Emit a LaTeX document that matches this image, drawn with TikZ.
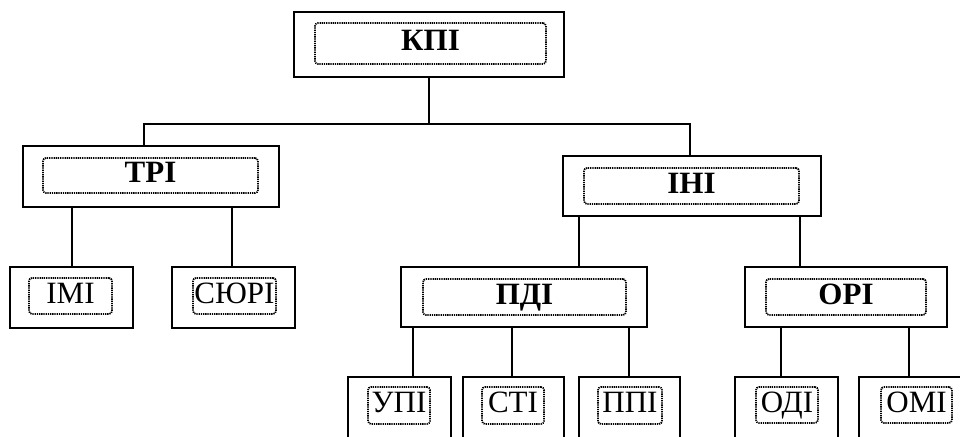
\documentclass[tikz,border=0pt]{standalone}
\usepackage{fontspec}
\setmainfont{Liberation Serif}
\begin{document}
\begin{tikzpicture}[x=1pt,y=-1pt,
  outer/.style={draw=black,line width=2pt,rectangle,inner sep=0pt},
  inner/.style={draw=black,line width=1.7pt,dash pattern=on 1.3pt off 0.9pt,rounded corners=3pt,rectangle,inner sep=0pt,text height=21pt,text depth=7pt,font=\fontsize{31}{32}\selectfont},
  bold/.style={font=\fontsize{31}{32}\selectfont\bfseries},
  conn/.style={draw=black,line width=1.8pt}]
\useasboundingbox (0,0) rectangle (960,436);
\clip (0,0) rectangle (960,436);
% КПІ
\node[outer,minimum width=270pt,minimum height=65pt] (kpi) at (429,44.5) {};
\node[inner,minimum width=231pt,minimum height=41pt,bold] (kpii) at (430.5,43.5) {КПІ};
% ТРІ
\node[outer,minimum width=256pt,minimum height=61pt] (tri) at (151,176.5) {};
\node[inner,minimum width=215pt,minimum height=35pt,bold] (trii) at (150.5,175.5) {ТРІ};
% ІНІ
\node[outer,minimum width=258pt,minimum height=60pt] (ini) at (692,186) {};
\node[inner,minimum width=215pt,minimum height=36pt,bold] (inii) at (691.5,186) {ІНІ};
% ІМІ
\node[outer,minimum width=123pt,minimum height=61pt] (imi) at (71.5,297.5) {};
\node[inner,minimum width=83pt,minimum height=36pt] (imii) at (70.5,296) {ІМІ};
% СЮРІ
\node[outer,minimum width=123pt,minimum height=61pt] (syuri) at (233.5,297.5) {};
\node[inner,minimum width=83pt,minimum height=36pt] (syurii) at (234.5,296) {СЮРІ};
% ПДІ
\node[outer,minimum width=246pt,minimum height=60pt] (pdi) at (524,297) {};
\node[inner,minimum width=203pt,minimum height=36pt,bold] (pdii) at (524.5,297) {ПДІ};
% ОРІ
\node[outer,minimum width=202pt,minimum height=60pt] (ori) at (846,297) {};
\node[inner,minimum width=160pt,minimum height=36pt,bold] (orii) at (846,297) {ОРІ};
% leaves
\node[outer,minimum width=103pt,minimum height=68pt] (upi) at (399.5,411) {};
\node[inner,minimum width=62pt,minimum height=37pt] (upii) at (399,405.5) {УПІ};
\node[outer,minimum width=101pt,minimum height=68pt] (sti) at (513.5,411) {};
\node[inner,minimum width=62pt,minimum height=37pt] (stii) at (513,405.5) {СТІ};
\node[outer,minimum width=101pt,minimum height=68pt] (ppi) at (629.5,411) {};
\node[inner,minimum width=64pt,minimum height=37pt] (ppii) at (630,405.5) {ППІ};
\node[outer,minimum width=103pt,minimum height=68pt] (odi) at (786.5,411) {};
\node[inner,minimum width=62pt,minimum height=36pt] (odii) at (787,405) {ОДІ};
\node[outer,minimum width=111pt,minimum height=68pt] (omi) at (914.5,411) {};
\node[inner,minimum width=71pt,minimum height=36pt] (omii) at (916.5,405) {ОМІ};
% connector x positions
\coordinate (bar) at (429,124);
\coordinate (xtri) at (144,0);
\coordinate (xini) at (690,0);
\coordinate (ximi) at (72,0);
\coordinate (xsyu) at (232,0);
\coordinate (xpdi) at (579,0);
\coordinate (xori) at (800,0);
\coordinate (xupi) at (413,0);
\coordinate (xsti) at (512,0);
\coordinate (xppi) at (629,0);
\coordinate (xodi) at (781,0);
\coordinate (xomi) at (909,0);
% connectors
\draw[conn] (kpi.south) -- (bar);
\draw[conn] (tri.north -| xtri) |- (bar) -| (ini.north -| xini);
\draw[conn] (tri.south -| ximi) -- (imi.north -| ximi);
\draw[conn] (tri.south -| xsyu) -- (syuri.north -| xsyu);
\draw[conn] (ini.south -| xpdi) -- (pdi.north -| xpdi);
\draw[conn] (ini.south -| xori) -- (ori.north -| xori);
\draw[conn] (pdi.south -| xupi) -- (upi.north -| xupi);
\draw[conn] (pdi.south -| xsti) -- (sti.north -| xsti);
\draw[conn] (pdi.south -| xppi) -- (ppi.north -| xppi);
\draw[conn] (ori.south -| xodi) -- (odi.north -| xodi);
\draw[conn] (ori.south -| xomi) -- (omi.north -| xomi);
\end{tikzpicture}
\end{document}
